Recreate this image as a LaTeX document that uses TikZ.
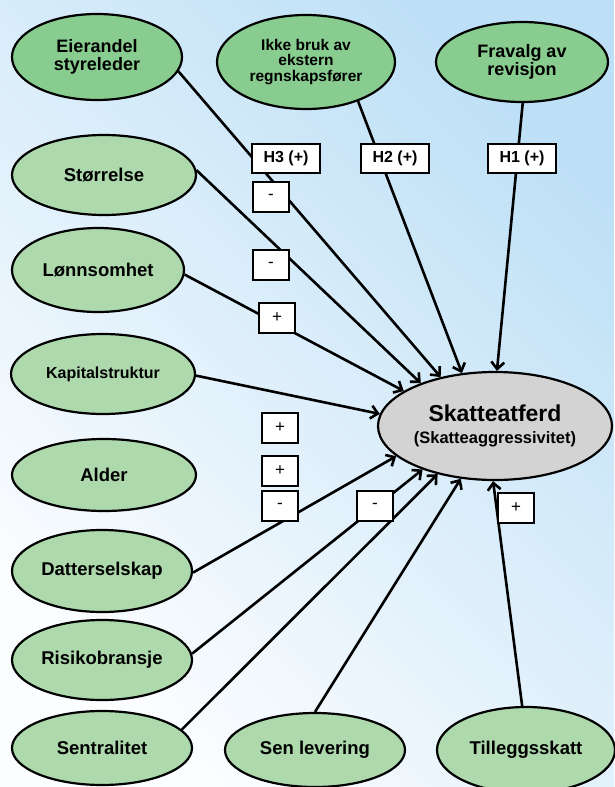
\documentclass[tikz,border=0pt]{standalone}
\usepackage{fontspec}
\setmainfont{Liberation Sans}
\usetikzlibrary{arrows.meta,shapes.geometric}
\definecolor{darkgr}{RGB}{136,204,143}
\definecolor{lightgr}{RGB}{173,217,173}
\definecolor{midgray}{RGB}{211,211,211}
\definecolor{bgblue}{RGB}{190,224,246}
\definecolor{bgwhite}{RGB}{252,253,255}
\newcommand{\fs}[2]{\fontsize{#1}{#2}\selectfont}

\begin{document}
\begin{tikzpicture}[x=1pt, y=-1pt, line width=2.6pt, >={Straight Barb[length=7pt,width=13pt]},
	ell/.style={draw, line width=2.2pt, ellipse, inner sep=0pt, align=center, fill=lightgr, font=\bfseries\fs{18.5}{19}},
	hyp/.style={ell, fill=darkgr},
	hbox/.style={draw, line width=2pt, fill=white, minimum width=68pt, minimum height=29pt, inner sep=0pt, font=\bfseries\fs{16}{16}},
	sbox/.style={draw, line width=2pt, fill=white, minimum width=36pt, minimum height=30pt, inner sep=0pt, font=\fs{17}{17}}]
	\useasboundingbox (0,0) rectangle (614,787);
	\shade[top color=bgblue, bottom color=bgwhite, shading angle=-45] (0,0) rectangle (614,787);
	% hypothesis factors
	\node[hyp, minimum width=170pt, minimum height=86pt, font=\bfseries\fs{18}{18}] (eier) at (97,57) {Eierandel\\styreleder};
	\node[hyp, minimum width=178pt, minimum height=94pt, font=\bfseries\fs{15.5}{15.5}] (ikke) at (306,62) {Ikke bruk av\\ekstern\\regnskapsfører};
	\node[hyp, minimum width=172pt, minimum height=80pt, font=\bfseries\fs{18}{16.5}] (frav) at (522,62) {Fravalg av\\revisjon};
	% control variables
	\node[ell, minimum width=184pt, minimum height=80pt] (storr) at (104,175) {Størrelse};
	\node[ell, minimum width=172pt, minimum height=84pt] (lonn) at (98,270) {Lønnsomhet};
	\node[ell, minimum width=184pt, minimum height=80pt, font=\bfseries\fs{16}{16}] (kap) at (103,374) {Kapitalstruktur};
	\node[ell, minimum width=184pt, minimum height=72pt] (alder) at (104,475) {Alder};
	\node[ell, minimum width=180pt, minimum height=82pt] (datter) at (102,571) {Datterselskap};
	\node[ell, minimum width=180pt, minimum height=80pt] (risiko) at (102,660) {Risikobransje};
	\node[ell, minimum width=180pt, minimum height=74pt] (sentral) at (102,748) {Sentralitet};
	\node[ell, minimum width=180pt, minimum height=74pt] (sen) at (315,750) {Sen levering};
	\node[ell, minimum width=178pt, minimum height=86pt] (tillegg) at (526,750) {Tilleggsskatt};
	% outcome
	\node[ell, fill=midgray, minimum width=234pt, minimum height=108pt, font=\bfseries\fs{23}{22}] (skatt) at (495,426) {Skatteatferd\\{\fs{16.5}{22}(Skatteaggressivitet)}};
	\foreach \a/\s/\t in {eier/-10.5/138.7, ikke/-37.6/122.3, frav/-89/88, storr/3/150.3, lonn/-3/159.7, kap/-1/174.4, datter/-1/197.7, risiko/4.5/211, sentral/13.3/220.3, sen/90/237.3, tillegg/95/268}
		{\draw[->] (\a.\s) -- (skatt.\t);}
	% signs
	\node[hbox] (h3) at (286,158) {H3 (+)};
	\node[hbox] (h2) at (395,158) {H2 (+)};
	\node[hbox] (h1) at (522,158) {H1 (+)};
	\node[sbox] (m1) at (271,197) {-};
	\node[sbox] (m2) at (271,265) {-};
	\node[sbox] (p1) at (277,318) {+};
	\node[sbox] (p2) at (280,428) {+};
	\node[sbox] (p3) at (280,471) {+};
	\node[sbox] (m3) at (280,506) {-};
	\node[sbox] (m4) at (375,506) {-};
	\node[sbox] (p4) at (516,508) {+};
\end{tikzpicture}
\end{document}
